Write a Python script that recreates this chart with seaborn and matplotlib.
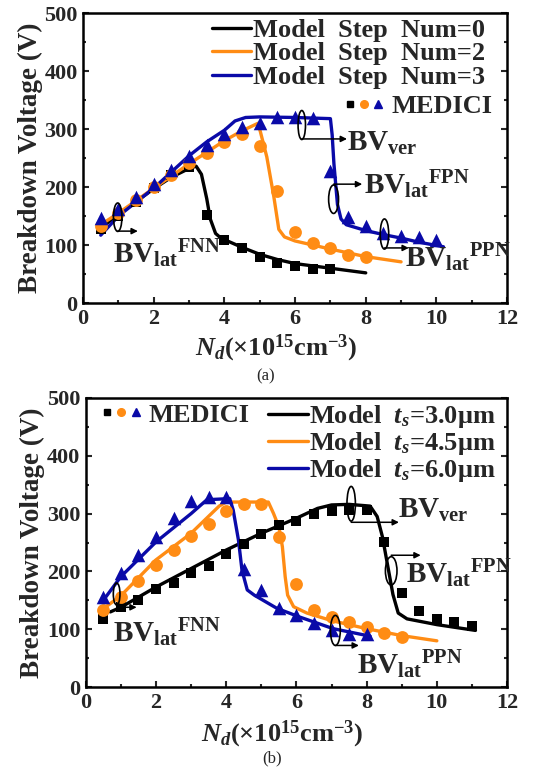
import matplotlib
matplotlib.use("Agg")
import matplotlib.pyplot as plt
import seaborn as sns
from matplotlib.patches import Ellipse
from matplotlib.lines import Line2D
from matplotlib.legend_handler import HandlerTuple
from matplotlib.ticker import MultipleLocator

# --- data, panel (a): step number ---
a_model0_nd = [0.5, 1.0, 1.5, 2.0, 2.5, 3.0, 3.2, 3.35, 3.5, 3.6, 3.75, 3.9, 4.2, 4.5, 5.0, 5.5, 6.0, 7.0, 8.0]
a_model0_bv = [130, 152, 175, 197, 217, 232, 236, 222, 180, 145, 120, 112, 104, 96, 84, 75, 68, 60, 52]
a_model2_nd = [0.5, 1.0, 2.0, 3.0, 4.0, 4.5, 4.95, 5.02, 5.2, 5.4, 5.54, 5.7, 6.0, 7.0, 8.0, 9.0]
a_model2_bv = [135, 155, 198, 240, 280, 297, 310, 295, 252, 183, 127, 114, 107, 93, 80, 71]
a_model3_nd = [0.5, 1.0, 2.0, 3.0, 3.5, 4.0, 4.3, 4.6, 5.0, 6.0, 7.0, 7.05, 7.1, 7.2, 7.3, 7.45, 8.0, 8.5, 9.0, 9.5, 10.2]
a_model3_bv = [117, 150, 198, 254, 278, 298, 314, 320, 321, 320, 318, 290, 240, 170, 145, 135, 125, 118, 112, 105, 97]

a_sq_nd = [0.5, 1.0, 1.5, 2.0, 2.5, 3.0, 3.5, 4.0, 4.5, 5.0, 5.5, 6.0, 6.5, 7.0]
a_sq_bv = [127, 150, 174, 199, 220, 235, 152, 108, 95, 80, 69, 63, 59, 58]
a_ci_nd = [0.5, 1.0, 1.5, 2.0, 2.5, 3.0, 3.5, 4.0, 4.5, 5.0, 5.5, 6.0, 6.5, 7.0, 7.5, 8.0]
a_ci_bv = [132, 155, 178, 200, 220, 242, 259, 278, 291, 271, 193, 123, 103, 95, 83, 79]
a_tr_nd = [0.5, 1.0, 1.5, 2.0, 2.5, 3.0, 3.5, 4.0, 4.5, 5.0, 5.5, 6.0, 6.5, 7.0, 7.5, 8.0, 8.5, 9.0, 9.5, 10.0]
a_tr_bv = [146, 163, 183, 205, 229, 253, 272, 292, 304, 310, 321, 321, 319, 228, 149, 132, 120, 116, 113, 108]

# --- data, panel (b): silicon thickness ---
b_model30_nd = [0.7, 1.0, 2.0, 3.0, 4.0, 5.0, 6.0, 6.6, 7.0, 7.5, 8.1, 8.3, 8.45, 8.6, 8.75, 8.9, 9.15, 10.0, 11.1]
b_model30_bv = [130, 138, 173, 205, 237, 266, 292, 309, 315, 316, 313, 295, 260, 210, 160, 128, 118, 108, 98]
b_model45_nd = [0.6, 1.0, 2.0, 3.0, 3.8, 4.0, 5.2, 5.35, 5.5, 5.6, 5.68, 5.75, 5.92, 6.3, 7.0, 8.0, 9.0, 10.0]
b_model45_bv = [140, 158, 220, 266, 313, 320, 320, 300, 277, 243, 191, 159, 139, 128, 115, 101, 89, 80]
b_model60_nd = [0.5, 1.0, 2.0, 3.0, 3.45, 4.1, 4.2, 4.35, 4.45, 4.6, 4.8, 5.45, 6.1, 7.05, 8.1]
b_model60_bv = [150, 191, 251, 300, 324, 326, 306, 254, 202, 168, 159, 136, 121, 101, 88]

b_sq_nd = [0.5, 1.0, 1.5, 2.0, 2.5, 3.0, 3.5, 4.0, 4.5, 5.0, 5.5, 6.0, 6.5, 7.0, 7.5, 8.0, 8.5, 9.0, 9.5, 10.0, 10.5, 11.0]
b_sq_bv = [118, 139, 150, 170, 180, 197, 210, 231, 247, 264, 280, 288, 299, 305, 307, 306, 251, 162, 132, 117, 113, 105]
b_ci_nd = [0.5, 1.0, 1.5, 2.0, 2.5, 3.0, 3.5, 4.0, 4.5, 5.0, 5.5, 6.0, 6.5, 7.0, 7.5, 8.0, 8.5, 9.0]
b_ci_bv = [133, 156, 184, 211, 237, 261, 282, 305, 317, 317, 260, 179, 133, 121, 113, 104, 94, 87]
b_tr_nd = [0.5, 1.0, 1.5, 2.0, 2.5, 3.0, 3.5, 4.0, 4.5, 5.0, 5.5, 6.0, 6.5, 7.0, 7.5, 8.0]
b_tr_bv = [156, 198, 228, 260, 292, 321, 329, 329, 205, 168, 136, 124, 110, 99, 92, 91]

a_labels = ["Model  Step  Num=0", "Model  Step  Num=2", "Model  Step  Num=3"]
b_labels = ["Model  $t_s$=3.0\u03bcm", "Model  $t_s$=4.5\u03bcm", "Model  $t_s$=6.0\u03bcm"]

BLACK = "black"
ORANGE = "#FF8C14"
BLUE = "#0A0AA8"

sns.set_theme(style="ticks")
plt.rcParams['font.family'] = ['Liberation Serif', 'DejaVu Serif']
plt.rcParams['font.weight'] = 'bold'
plt.rcParams['axes.labelweight'] = 'bold'
plt.rcParams['mathtext.fontset'] = 'custom'
plt.rcParams['mathtext.rm'] = 'Liberation Serif:bold'
plt.rcParams['mathtext.it'] = 'Liberation Serif:italic:bold'
plt.rcParams['mathtext.bf'] = 'Liberation Serif:bold'

fig = plt.figure(figsize=(5.36, 7.72), dpi=100)
ax_a = fig.add_axes([0.155, 0.6075, 0.791, 0.3755])
ax_b = fig.add_axes([0.160, 0.110, 0.786, 0.3745])


def draw_panel(ax, lines, markers, xlab_pos):
    for nd, bv, col in lines:
        sns.lineplot(x=nd, y=bv, ax=ax, color=col, linewidth=2.4, sort=False,
                     estimator=None, zorder=2)
    for nd, bv, col, mk, sz in markers:
        sns.scatterplot(x=nd, y=bv, ax=ax, color=col, marker=mk, s=sz,
                        edgecolor=col, linewidth=0, zorder=3)
    ax.set_xlim(0, 12)
    ax.set_ylim(0, 500)
    ax.xaxis.set_major_locator(MultipleLocator(2))
    ax.xaxis.set_minor_locator(MultipleLocator(1))
    ax.yaxis.set_major_locator(MultipleLocator(100))
    ax.yaxis.set_minor_locator(MultipleLocator(50))
    ax.tick_params(which='both', direction='in', right=True, top=False,
                   width=1.5, labelsize=16, pad=4)
    ax.tick_params(which='major', length=4)
    ax.tick_params(which='minor', length=2.5)
    for sp in ax.spines.values():
        sp.set_linewidth(1.8)
        sp.set_color('black')
    ax.set_xlabel(r'$N_d$(×10$^{15}$cm$^{-3}$)', fontsize=19)
    ax.xaxis.label.set_va('center')
    ax.xaxis.set_label_coords(*xlab_pos)
    ax.set_ylabel('Breakdown Voltage (V)', fontsize=19.5, labelpad=1)


def mark(ax, cx, cy, w, h, y_arrow, x_end, label, tx, ty):
    ax.add_patch(Ellipse((cx, cy), w, h, fill=False, edgecolor='black', lw=1.2, zorder=4))
    ax.annotate('', xy=(x_end, y_arrow), xytext=(cx, y_arrow),
                arrowprops=dict(arrowstyle='-|>', color='black', lw=1.1,
                                mutation_scale=9, shrinkA=0, shrinkB=0), zorder=4)
    ax.text(tx, ty, label, fontsize=21, ha='left', va='center', zorder=5)


FNN = r'$\mathrm{BV_{lat}}^{\mathrm{FNN}}$'
FPN = r'$\mathrm{BV_{lat}}^{\mathrm{FPN}}$'
PPN = r'$\mathrm{BV_{lat}}^{\mathrm{PPN}}$'
VER = r'$\mathrm{BV_{ver}}$'

# --- panel (a) ---
draw_panel(ax_a,
           [(a_model0_nd, a_model0_bv, BLACK), (a_model2_nd, a_model2_bv, ORANGE),
            (a_model3_nd, a_model3_bv, BLUE)],
           [(a_sq_nd, a_sq_bv, BLACK, 's', 60), (a_ci_nd, a_ci_bv, ORANGE, 'o', 85),
            (a_tr_nd, a_tr_bv, BLUE, '^', 95)],
           (0.455, -0.155))
mark(ax_a, 0.98, 148, 0.24, 49, 124, 1.55, FNN, 0.85, 85)
mark(ax_a, 6.19, 307, 0.21, 50, 283, 7.47, VER, 7.48, 275)
mark(ax_a, 7.09, 179, 0.28, 49, 205, 7.9, FPN, 7.95, 205)
mark(ax_a, 8.53, 119, 0.24, 52, 95, 9.22, PPN, 9.1, 78)

h_lines = [Line2D([], [], color=c, lw=2.4) for c in (BLACK, ORANGE, BLUE)]
h_med = (Line2D([], [], color=BLACK, marker='s', ls='', ms=5),
         Line2D([], [], color=ORANGE, marker='o', ls='', ms=5.5),
         Line2D([], [], color=BLUE, marker='^', ls='', ms=6))

leg1 = ax_a.legend(h_lines, a_labels, loc='upper right', bbox_to_anchor=(0.96, 1.0),
                   frameon=False, fontsize=19, handlelength=1.5, handletextpad=0.05,
                   labelspacing=0.0, borderpad=0.2, borderaxespad=0.0)
ax_a.add_artist(leg1)
ax_a.legend([h_med], ['MEDICI'], loc='upper right', bbox_to_anchor=(0.965, 0.72),
            handler_map={tuple: HandlerTuple(ndivide=None, pad=0.25)},
            frameon=False, fontsize=19, handlelength=1.35, handletextpad=0.35,
            borderpad=0.0, borderaxespad=0.0)

# --- panel (b) ---
draw_panel(ax_b,
           [(b_model30_nd, b_model30_bv, BLACK), (b_model45_nd, b_model45_bv, ORANGE),
            (b_model60_nd, b_model60_bv, BLUE)],
           [(b_sq_nd, b_sq_bv, BLACK, 's', 60), (b_ci_nd, b_ci_bv, ORANGE, 'o', 85),
            (b_tr_nd, b_tr_bv, BLUE, '^', 95)],
           (0.466, -0.163))
mark(ax_b, 0.88, 161, 0.19, 38, 138, 1.45, FNN, 0.78, 94)
mark(ax_b, 7.56, 317, 0.24, 60, 285, 8.92, VER, 8.88, 305)
mark(ax_b, 8.70, 201, 0.33, 49, 228, 9.54, FPN, 9.11, 197)
mark(ax_b, 7.11, 98, 0.28, 52, 72, 7.78, PPN, 7.73, 38)

leg2 = ax_b.legend(h_lines, b_labels, loc='upper right', bbox_to_anchor=(0.985, 1.0),
                   frameon=False, fontsize=19, handlelength=1.5, handletextpad=0.05,
                   labelspacing=0.0, borderpad=0.2, borderaxespad=0.0)
ax_b.add_artist(leg2)
ax_b.legend([h_med], ['MEDICI'], loc='upper left', bbox_to_anchor=(0.03, 1.0),
            handler_map={tuple: HandlerTuple(ndivide=None, pad=0.25)},
            frameon=False, fontsize=19, handlelength=1.35, handletextpad=0.35,
            borderpad=0.2, borderaxespad=0.0)

fig.text(0.496, 0.513, '(a)', fontsize=12, fontweight='normal', ha='center', va='center')
fig.text(0.507, 0.018, '(b)', fontsize=12, fontweight='normal', ha='center', va='center')

fig.savefig('out.png', dpi=100)
